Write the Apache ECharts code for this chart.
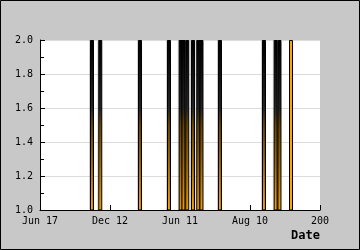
<!DOCTYPE html>
<html>
<head>
<meta charset="utf-8">
<script src="https://cdn.jsdelivr.net/npm/echarts@6/dist/echarts.min.js"></script>
<style>
html,body{margin:0;padding:0;background:#c8c8c8;}
#c{width:360px;height:250px;}
</style>
</head>
<body>
<div id="c"></div>
<script>
// x tick labels (one per axis unit)
var tickLabels = ["Jun 17", "Dec 12", "Jun 11", "Aug 10", "200"];
// visit spikes: position along the date axis (in tick units) and visit count
var visitDates = [0.743, 0.861, 1.429, 1.843, 2.01, 2.05, 2.104, 2.186, 2.261, 2.307, 2.571, 3.2, 3.367, 3.421];
var visitCounts = [2, 2, 2, 2, 2, 2, 2, 2, 2, 2, 2, 2, 2, 2];
// most recent visit
var latestDates = [3.586];
var latestCounts = [2];

var mono = "DejaVu Sans Mono";
var chart = echarts.init(document.getElementById('c'), null, {renderer: 'canvas'});

function pairs(xs, ys) { return xs.map(function (x, i) { return [x, ys[i]]; }); }

var fadeFill = new echarts.graphic.LinearGradient(0, 0, 0, 1, [
  {offset: 0, color: '#000000'},
  {offset: 0.4, color: '#262626'},
  {offset: 0.5, color: '#6e4700'},
  {offset: 0.72, color: '#a86e00'},
  {offset: 1, color: '#ffa500'}
]);

chart.setOption({
  animation: false,
  backgroundColor: '#c8c8c8',
  grid: {left: 40, top: 40, width: 280, height: 170, show: true, backgroundColor: '#ffffff', borderWidth: 0,
    containLabel: false, outerBoundsMode: 'none'},
  xAxis: {
    type: 'value', min: 0, max: 4, interval: 1,
    axisLine: {show: true, onZero: false, lineStyle: {color: '#000', width: 1}},
    axisTick: {show: true, inside: true, length: 5, lineStyle: {color: '#000'}},
    splitLine: {show: false},
    axisLabel: {color: '#000', fontFamily: mono, fontSize: 10, margin: 6,
      formatter: function (v) { return tickLabels[Math.round(v)] || ''; }}
  },
  yAxis: {
    type: 'value', min: 1, max: 2, interval: 0.2,
    name: 'Vists', nameLocation: 'middle', nameRotate: 90, nameGap: 35,
    nameTextStyle: {color: '#000', fontFamily: mono, fontWeight: 'bold', fontSize: 12},
    axisLine: {show: true, lineStyle: {color: '#000', width: 1}},
    axisTick: {show: true, inside: true, length: 5, lineStyle: {color: '#000'}},
    minorTick: {show: true, splitNumber: 2, length: 4, lineStyle: {color: '#000'}},
    splitLine: {show: true, lineStyle: {color: '#dcdcdc', width: 1}},
    axisLabel: {color: '#000', fontFamily: mono, fontSize: 10, margin: 7,
      formatter: function (v) { return v.toFixed(1); }}
  },
  graphic: [
    {type: 'text', silent: true, style: {text: 'Date', x: 320, y: 236, textAlign: 'right', textVerticalAlign: 'middle',
      fontFamily: mono, fontWeight: 'bold', fontSize: 12, fill: '#000'}},
    {type: 'rect', silent: true, shape: {x: 0.5, y: 0.5, width: 359, height: 249},
      style: {fill: 'none', stroke: '#000', lineWidth: 1}}
  ],
  series: [
    {type: 'bar', name: 'visits', data: pairs(visitDates, visitCounts), barWidth: 4, clip: true,
      itemStyle: {color: fadeFill, borderColor: '#000', borderWidth: 1,
        shadowColor: 'rgba(0,0,0,0.12)', shadowOffsetX: -1, shadowBlur: 0}},
    {type: 'bar', name: 'latest', data: pairs(latestDates, latestCounts), barWidth: 4, clip: true, barGap: '-100%',
      itemStyle: {color: '#ffa500', borderColor: '#000', borderWidth: 1}}
  ]
});
</script>
</body>
</html>
